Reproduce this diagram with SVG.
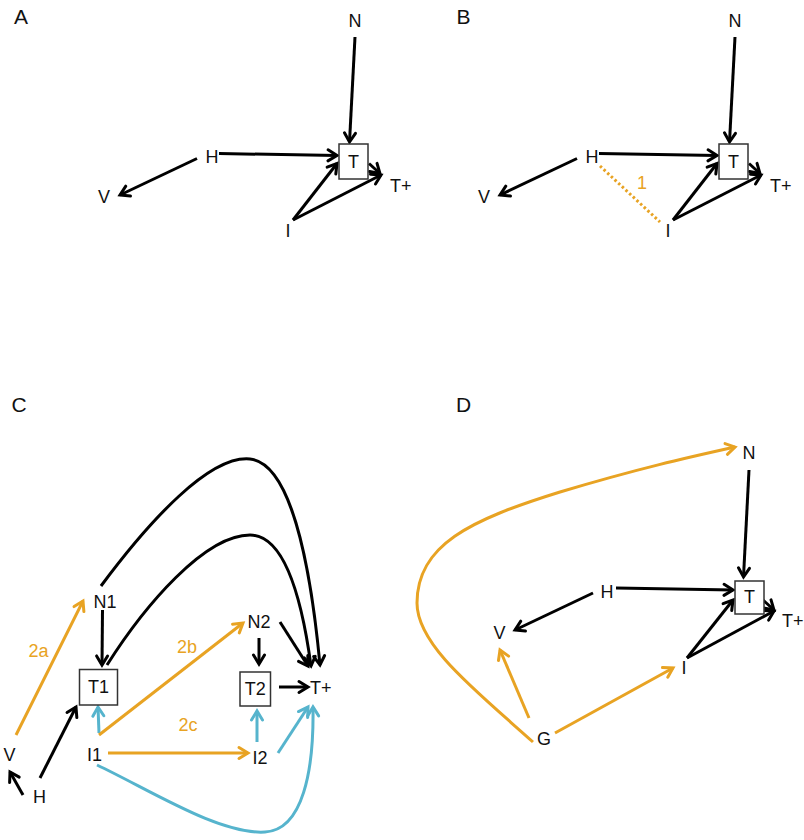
<svg xmlns="http://www.w3.org/2000/svg" width="804" height="840" viewBox="0 0 804 840">
<defs>
<style>
text{font-family:"Liberation Sans",Arial,sans-serif;font-size:18px;fill:#111;text-anchor:middle}
.pl{font-size:21px}
.ol{fill:#E8A323}
.st{text-anchor:start}
.box{fill:#fff;stroke:#333;stroke-width:1.5}
.k{fill:none;stroke:#000;stroke-width:3;marker-end:url(#ak)}
.o{fill:none;stroke:#E8A323;stroke-width:3;marker-end:url(#ao)}
.b{fill:none;stroke:#56B4CD;stroke-width:3;marker-end:url(#ab)}
.dot{fill:none;stroke:#E8A323;stroke-width:3;stroke-dasharray:2.5 2.5}
</style>
<marker id="ak" markerUnits="userSpaceOnUse" markerWidth="16" markerHeight="16" viewBox="-13 -8 16 16" refX="0" refY="0" orient="auto"><path d="M-9,-5.5 L0,0 L-9,5.5" fill="none" stroke="#000" stroke-width="3" stroke-linecap="round"/></marker>
<marker id="ao" markerUnits="userSpaceOnUse" markerWidth="16" markerHeight="16" viewBox="-13 -8 16 16" refX="0" refY="0" orient="auto"><path d="M-9,-5.5 L0,0 L-9,5.5" fill="none" stroke="#E8A323" stroke-width="3" stroke-linecap="round"/></marker>
<marker id="ab" markerUnits="userSpaceOnUse" markerWidth="16" markerHeight="16" viewBox="-13 -8 16 16" refX="0" refY="0" orient="auto"><path d="M-9,-5.5 L0,0 L-9,5.5" fill="none" stroke="#56B4CD" stroke-width="3" stroke-linecap="round"/></marker>
</defs>
<rect width="804" height="840" fill="#fff"/>

<g id="panel-labels">
<text class="pl" x="21" y="24">A</text>
<text class="pl" x="463.5" y="24">B</text>
<text class="pl" x="19" y="412">C</text>
<text class="pl" x="463.5" y="412">D</text>
</g>

<g id="connectors">
<!-- A -->
<path class="k" d="M355,37 L349.5,142"/>
<path class="k" d="M219,153.5 L337,155.5"/>
<path class="k" d="M197,158.5 L120,195"/>
<path class="k" d="M369,163.5 L380,173.5"/>
<path class="k" d="M293,220 L337,163.5"/>
<path class="k" d="M293,220 L381,175"/>
<!-- B -->
<path class="k" d="M735,37 L729.5,142"/>
<path class="k" d="M599,153.5 L717,155.5"/>
<path class="k" d="M577,158.5 L500,195"/>
<path class="k" d="M749,163.5 L760,173.5"/>
<path class="k" d="M673,220 L717,163.5"/>
<path class="k" d="M673,220 L761,175"/>
<path class="dot" d="M600,166 L660,222"/>
<!-- C -->
<path class="k" d="M101,586 C150,520 210,455 250,459 C290,463 310,560 320,665"/>
<path class="k" d="M107,665 C145,605 205,535 250,535 C285,535 302,600 311,666"/>
<path class="k" d="M280,622 L308,666"/>
<path class="k" d="M102.5,610 L102,665"/>
<path class="o" d="M16,735 L83,601"/>
<path class="k" d="M40,778 L76,707"/>
<path class="k" d="M23,795 L10,772"/>
<path class="b" d="M99,733 L98,707"/>
<path class="o" d="M99,735 L243,623"/>
<path class="o" d="M108,753 L248,753"/>
<path class="b" d="M257,742 L257,711"/>
<path class="k" d="M259,638 L259,664"/>
<path class="k" d="M279,687 L308,687"/>
<path class="b" d="M278,753 L308,707"/>
<path class="b" d="M97,765 C150,790 220,835 265,832 C303,830 314,770 313,707"/>
<!-- D -->
<path class="o" d="M533,742 C475,690 417,645 417,603 C417,545 470,520 560,492 C640,468 690,457 735,447"/>
<path class="k" d="M749,470 L743.5,577"/>
<path class="k" d="M616,588 L733,590"/>
<path class="k" d="M593,593 L515,630"/>
<path class="k" d="M763,600 L774,610"/>
<path class="k" d="M687,658 L733,600"/>
<path class="k" d="M687,658 L774,611"/>
<path class="o" d="M529,718 L500,650"/>
<path class="o" d="M555,733 L673,668"/>
</g>

<!-- Panel A nodes -->
<g id="A-N"><text x="355" y="27">N</text></g>
<g id="A-T"><rect class="box" x="339" y="144" width="29" height="35"/><text x="353.5" y="168">T</text></g>
<g id="A-H"><text x="212" y="163">H</text></g>
<g id="A-V"><text x="104" y="203">V</text></g>
<g id="A-Tplus"><text class="st" x="390" y="192">T+</text></g>
<g id="A-I"><text x="288" y="237">I</text></g>

<!-- Panel B nodes -->
<g id="B-N"><text x="735" y="27">N</text></g>
<g id="B-T"><rect class="box" x="719" y="144" width="29" height="35"/><text x="733.5" y="168">T</text></g>
<g id="B-H"><text x="592" y="163">H</text></g>
<g id="B-V"><text x="484" y="203">V</text></g>
<g id="B-Tplus"><text class="st" x="770" y="192">T+</text></g>
<g id="B-I"><text x="668" y="237">I</text></g>
<g id="B-label1"><text class="ol" x="642" y="189">1</text></g>

<!-- Panel C nodes -->
<g id="C-N1"><text x="105" y="608">N1</text></g>
<g id="C-T1"><rect class="box" x="79.5" y="669.5" width="38" height="35.5"/><text x="98.5" y="693">T1</text></g>
<g id="C-V"><text x="9.5" y="761">V</text></g>
<g id="C-H"><text x="39.5" y="803">H</text></g>
<g id="C-I1"><text x="94.5" y="761">I1</text></g>
<g id="C-N2"><text x="259" y="628">N2</text></g>
<g id="C-T2"><rect class="box" x="240" y="672" width="30.5" height="34"/><text x="255.3" y="695">T2</text></g>
<g id="C-I2"><text x="260" y="764">I2</text></g>
<g id="C-Tplus"><text class="st" x="310" y="694">T+</text></g>
<g id="C-labels">
<text class="ol" x="38.5" y="657">2a</text>
<text class="ol" x="187" y="653">2b</text>
<text class="ol" x="188" y="731">2c</text>
</g>

<!-- Panel D nodes -->
<g id="D-N"><text x="749" y="459">N</text></g>
<g id="D-T"><rect class="box" x="735" y="581" width="29" height="33"/><text x="749.5" y="603">T</text></g>
<g id="D-H"><text x="607" y="598">H</text></g>
<g id="D-V"><text x="499.5" y="639">V</text></g>
<g id="D-Tplus"><text class="st" x="782" y="627">T+</text></g>
<g id="D-I"><text x="684" y="674">I</text></g>
<g id="D-G"><text x="544" y="745">G</text></g>
</svg>
